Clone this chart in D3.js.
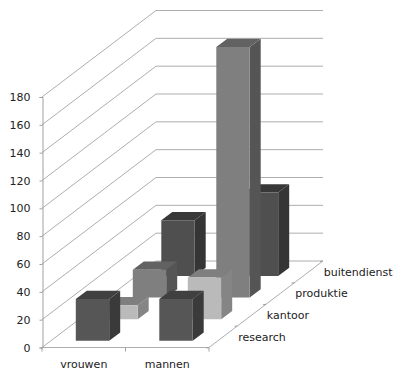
<!DOCTYPE html>
<html>
<head>
<meta charset="utf-8">
<script src="https://cdn.jsdelivr.net/npm/d3@7"></script>
<style>
  html, body { margin: 0; padding: 0; background: #fff; }
  text { font-family: "DejaVu Sans", sans-serif; font-size: 11px; fill: #222; }
</style>
</head>
<body>
<script>
var categories = ["vrouwen", "mannen"];
var series = ["research", "kantoor", "produktie", "buitendienst"];
var vrouwen = [30, 10, 20, 40];
var mannen = [30, 30, 180, 60];
var yTicks = [0, 20, 40, 60, 80, 100, 120, 140, 160, 180];

// face, side, top per series
var faceColors = ["#565656", "#bababa", "#7f7f7f", "#4f4f4f"];
var sideColors = ["#3a3a3a", "#858585", "#555555", "#353535"];
var topColors = ["#404040", "#7f7f7f", "#626262", "#383838"];

var width = 410, height = 383;

var svg = d3.select("body").append("svg")
  .attr("width", width)
  .attr("height", height)
  .style("display", "block");

var x = d3.scaleBand().domain(categories).range([42, 209]).paddingInner(0.6).paddingOuter(0.3);
var y = d3.scaleLinear().domain([0, 180]).range([347.5, 97]);

// depth offsets, going back into the chart
var depthX = d3.scaleLinear().domain([0, 1]).range([0, 114]);
var depthY = d3.scaleLinear().domain([0, 1]).range([0, -86.5]);
var depth = d3.scaleBand().domain(series).range([0, 1]).paddingInner(0.614).paddingOuter(0.307);
var depthStep = d3.scalePoint().domain(series).range([0.125, 0.875]);

function pt(px, py, d) {
  return (px + depthX(d)) + "," + (py + depthY(d));
}

var walls = svg.append("g").attr("fill", "none").attr("stroke", "#aeaeae");

// gridlines on side wall and back wall
walls.selectAll("polyline")
  .data(yTicks)
  .enter().append("polyline")
  .attr("points", function(d) {
    return pt(42, y(d), 0) + " " + pt(42, y(d), 1) + " " + pt(209, y(d), 1);
  });

// floor edges
walls.append("line")
  .attr("x1", 42).attr("y1", y(0))
  .attr("x2", 209).attr("y2", y(0));
walls.append("line")
  .attr("x1", 209).attr("y1", y(0))
  .attr("x2", 209 + depthX(1)).attr("y2", y(0) + depthY(1));

// value axis
var yAxis = d3.axisLeft(y).tickValues(yTicks).tickSize(3).tickPadding(9).tickFormat(d3.format("d"));
var yg = svg.append("g").attr("transform", "translate(42.5,0)").call(yAxis);
yg.selectAll("path,line").attr("stroke", "#a0a0a0");

// category axis, sits on the floor edge
var catScale = d3.scalePoint().domain([0, 1, 2]).range([42, 209]);
svg.append("g").selectAll("line")
  .data(catScale.domain())
  .enter().append("line")
  .attr("x1", function(d) { return catScale(d); })
  .attr("x2", function(d) { return catScale(d); })
  .attr("y1", y(0))
  .attr("y2", y(0) + 4)
  .attr("stroke", "#a0a0a0");

svg.append("g").selectAll("text")
  .data(categories)
  .enter().append("text")
  .attr("x", function(d) { return x(d) + x.bandwidth() / 2; })
  .attr("y", 368)
  .attr("text-anchor", "middle")
  .text(function(d) { return d; });

// depth axis ticks and labels
var depthTicks = d3.range(0, 5).map(function(i) { return i / 4; });
svg.append("g").selectAll("line")
  .data(depthTicks)
  .enter().append("line")
  .attr("x1", function(d) { return 209 + depthX(d); })
  .attr("x2", function(d) { return 209 + depthX(d) - 3; })
  .attr("y1", function(d) { return y(0) + depthY(d); })
  .attr("y2", function(d) { return y(0) + depthY(d) + 0.5; })
  .attr("stroke", "#a0a0a0");

svg.append("g").selectAll("text")
  .data(series)
  .enter().append("text")
  .attr("x", function(d) { return 209 + depthX(depthStep(d)) + 15; })
  .attr("y", function(d) { return y(0) + depthY(depthStep(d)) + 4; })
  .text(function(d) { return d; });

// bars, back row first so nearer rows cover them
var rows = series.map(function(s, i) {
  return { name: s, idx: i, vals: [vrouwen[i], mannen[i]] };
}).reverse();

var dw = depth.bandwidth();

var row = svg.append("g").selectAll("g")
  .data(rows)
  .enter().append("g");

var bar = row.selectAll("g")
  .data(function(r) {
    return categories.map(function(c, j) {
      return { cat: c, value: r.vals[j], idx: r.idx, d: depth(r.name) };
    });
  })
  .enter().append("g");

// side
bar.append("polygon")
  .attr("fill", function(b) { return sideColors[b.idx]; })
  .attr("points", function(b) {
    var r = x(b.cat) + x.bandwidth();
    return [pt(r, y(b.value), b.d), pt(r, y(b.value), b.d + dw), pt(r, y(0), b.d + dw), pt(r, y(0), b.d)].join(" ");
  });

// top
bar.append("polygon")
  .attr("fill", function(b) { return topColors[b.idx]; })
  .attr("points", function(b) {
    var l = x(b.cat), r = l + x.bandwidth(), t = y(b.value);
    return [pt(l, t, b.d), pt(l, t, b.d + dw), pt(r, t, b.d + dw), pt(r, t, b.d)].join(" ");
  });

// front
bar.append("polygon")
  .attr("fill", function(b) { return faceColors[b.idx]; })
  .attr("points", function(b) {
    var l = x(b.cat), r = l + x.bandwidth();
    return [pt(l, y(b.value), b.d), pt(r, y(b.value), b.d), pt(r, y(0), b.d), pt(l, y(0), b.d)].join(" ");
  });
</script>
</body>
</html>
